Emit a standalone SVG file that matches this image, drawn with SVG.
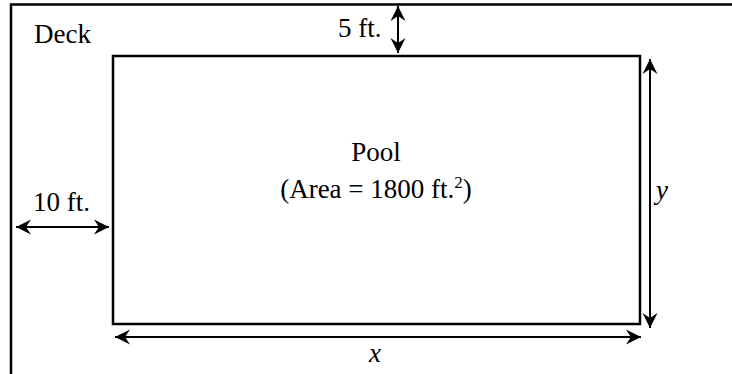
<svg xmlns="http://www.w3.org/2000/svg" width="732" height="374" viewBox="0 0 732 374">
<style>
  .frame { fill: none; stroke: #000; stroke-width: 2.5; }
  .pool { fill: #fff; stroke: #000; stroke-width: 2.5; }
  .dim { stroke: #000; stroke-width: 2; fill: none; marker-start: url(#ah); marker-end: url(#ah); }
</style>
<defs>
  <marker id="ah" viewBox="-16 -9 18 18" markerWidth="18" markerHeight="18" refX="0" refY="0" orient="auto-start-reverse" markerUnits="userSpaceOnUse">
    <path d="M0,0 L-15,-7.5 L-10,0 L-15,7.5 Z" fill="#000"/>
  </marker>
</defs>
<g id="deck" font-family="'Liberation Serif', 'Times New Roman', serif" font-size="27" fill="#000">
  <path class="frame" d="M11,374 L11,4.5 L732,4.5"/>
  <text x="34" y="43">Deck</text>
</g>
<g id="pool" font-family="'Liberation Serif', 'Times New Roman', serif" font-size="27" fill="#000">
  <rect class="pool" x="113" y="56" width="527" height="268"/>
  <text x="376" y="161" text-anchor="middle">Pool</text>
  <text x="376" y="198" text-anchor="middle">(Area = 1800 ft.<tspan font-size="17" dy="-10">2</tspan><tspan dy="10">)</tspan></text>
</g>
<g id="connectors">
  <line class="dim" x1="398" y1="6" x2="398" y2="53"/>
  <line class="dim" x1="16" y1="227" x2="109" y2="227"/>
  <line class="dim" x1="650" y1="59" x2="650" y2="328"/>
  <line class="dim" x1="115" y1="337" x2="641" y2="337"/>
</g>
<g id="labels" font-family="'Liberation Serif', 'Times New Roman', serif" font-size="27" fill="#000">
  <text x="338" y="37">5 ft.</text>
  <text x="33" y="211">10 ft.</text>
  <text x="656" y="199" font-style="italic">y</text>
  <text x="369" y="362" font-style="italic">x</text>
</g>
</svg>
